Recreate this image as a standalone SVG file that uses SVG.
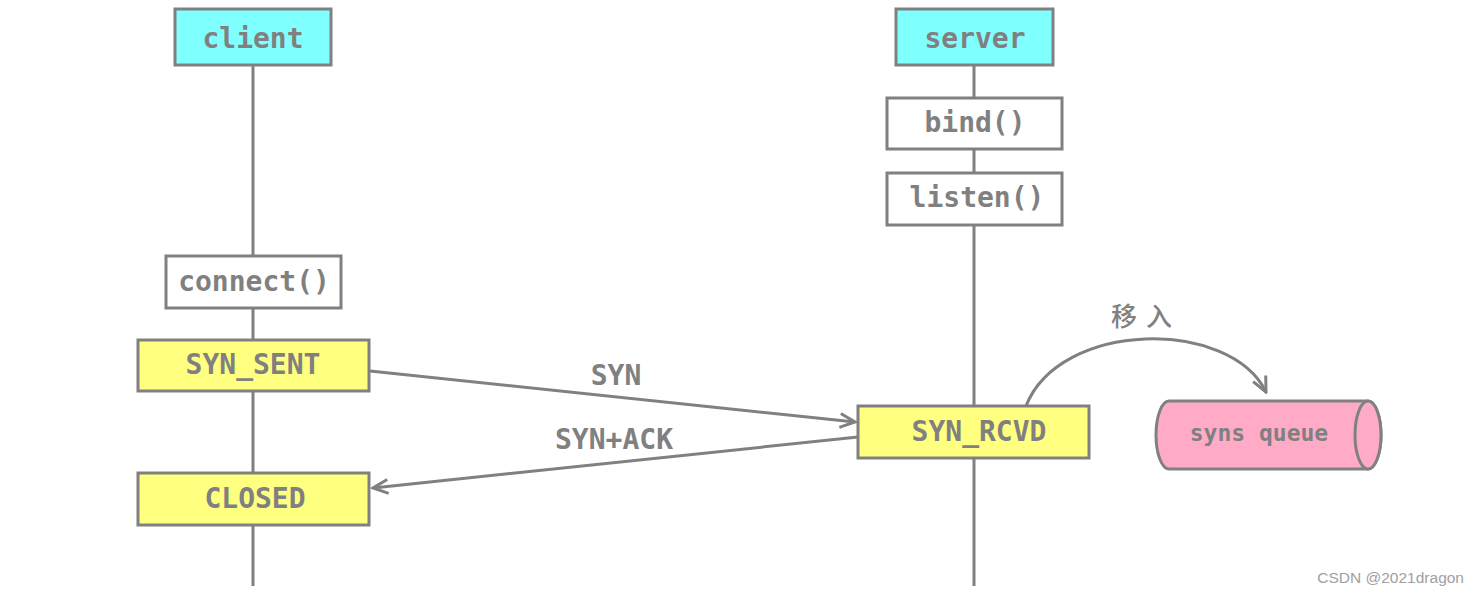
<svg xmlns="http://www.w3.org/2000/svg" width="1479" height="596" viewBox="0 0 1479 596">
<defs>
<style>
.box{stroke:#808080;stroke-width:3}
.cyan{fill:#80ffff}
.white{fill:#ffffff}
.yellow{fill:#ffff80}
.pink{fill:#ffabc7}
.t{font-family:"DejaVu Sans Mono","Liberation Mono",monospace;font-weight:bold;font-size:28px;fill:#808080;text-anchor:middle}
.small{font-size:23px}
.line{stroke:#808080;stroke-width:3;fill:none}
.cjk{font-family:"Noto Sans CJK SC",sans-serif;font-size:26px;font-weight:500;fill:#808080;text-anchor:middle;letter-spacing:9px}
.wm{font-family:"Liberation Sans",Arial,sans-serif;font-size:15.5px;fill:#a0a0a0;text-anchor:end}
</style>
<marker id="arr" markerUnits="userSpaceOnUse" viewBox="-18 -10 20 20" refX="0" refY="0" markerWidth="20" markerHeight="20" orient="auto">
<path d="M-15,-7 L0,0 L-15,7" fill="none" stroke="#808080" stroke-width="3"/>
</marker>
</defs>
<rect width="1479" height="596" fill="#ffffff"/>
<g id="lifelines">
<line class="line" x1="253" y1="65" x2="253" y2="586"/>
<line class="line" x1="974" y1="65" x2="974" y2="586"/>
</g>
<g id="client">
<rect class="box cyan" x="175" y="9" width="156" height="56"/>
<text class="t" x="253" y="48">client</text>
</g>
<g id="connect">
<rect class="box white" x="166" y="256" width="175" height="52"/>
<text class="t" x="254" y="291">connect()</text>
</g>
<g id="syn_sent">
<rect class="box yellow" x="138" y="340" width="231" height="51"/>
<text class="t" x="253" y="374">SYN_SENT</text>
</g>
<g id="closed">
<rect class="box yellow" x="138" y="473" width="231" height="52"/>
<text class="t" x="255" y="508">CLOSED</text>
</g>
<g id="server">
<rect class="box cyan" x="896" y="9" width="157" height="56"/>
<text class="t" x="975" y="48">server</text>
</g>
<g id="bind">
<rect class="box white" x="887" y="98" width="175" height="51"/>
<text class="t" x="975" y="132">bind()</text>
</g>
<g id="listen">
<rect class="box white" x="887" y="173" width="175" height="52"/>
<text class="t" x="977" y="207">listen()</text>
</g>
<g id="syn_rcvd">
<rect class="box yellow" x="858" y="406" width="231" height="52"/>
<text class="t" x="979" y="441">SYN_RCVD</text>
</g>
<g id="syns_queue">
<path class="box pink" d="M1169,401 L1368,401 A13,34 0 0 1 1368,469 L1169,469 A13,34 0 0 1 1169,401 Z"/>
<ellipse class="box pink" cx="1368" cy="435" rx="13" ry="34"/>
<text class="t small" x="1259" y="441">syns queue</text>
</g>
<g id="connectors">
<line class="line" x1="370" y1="371" x2="855" y2="422" marker-end="url(#arr)"/>
<text class="t" x="616" y="385">SYN</text>
<line class="line" x1="858" y1="437" x2="373" y2="488" marker-end="url(#arr)"/>
<text class="t" x="614" y="449">SYN+ACK</text>
<path class="line" d="M1026,406 C1060,320 1230,318 1266,392" marker-end="url(#arr)"/>
<text class="cjk" x="1146" y="326">移入</text>
</g>
<text class="wm" x="1464" y="583">CSDN @2021dragon</text>
</svg>
